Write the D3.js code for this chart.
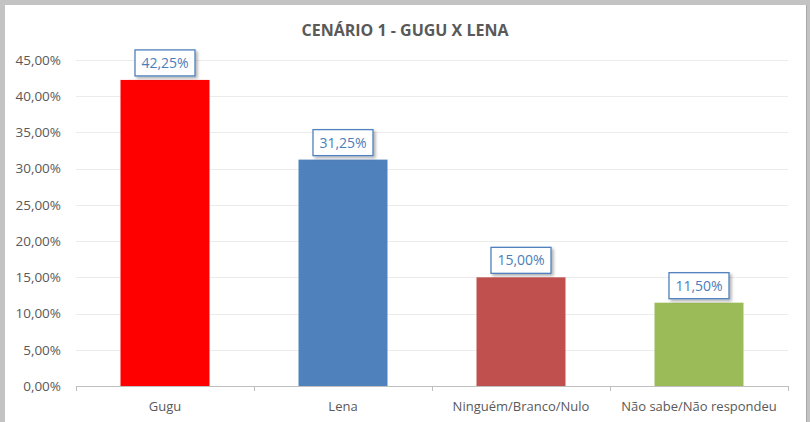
<!DOCTYPE html>
<html><head><meta charset="utf-8">
<script src="https://cdn.jsdelivr.net/npm/d3@7"></script>
<style>
html,body{margin:0;padding:0;background:#c3c3c3;}
svg{display:block;}
</style></head>
<body>
<script>
const title = "CENÁRIO 1 - GUGU X LENA";
const categories = ["Gugu", "Lena", "Ninguém/Branco/Nulo", "Não sabe/Não respondeu"];
const values = [42.25, 31.25, 15.00, 11.50];
const colors = ["#ff0000", "#4f81bd", "#c0504d", "#9bbb59"];
const yTicks = [0, 5, 10, 15, 20, 25, 30, 35, 40, 45];

const W = 810, H = 422;
const fmt = v => v.toFixed(2).replace(".", ",") + "%";
const font = "'Open Sans', 'Liberation Sans', sans-serif";

const svg = d3.select("body").append("svg").attr("width", W).attr("height", H);
// background frame
svg.append("rect").attr("x", 0).attr("y", 0).attr("width", W).attr("height", H).attr("fill", "#c3c3c3");
svg.append("rect").attr("x", 5).attr("y", 5).attr("width", 801).attr("height", H - 5).attr("fill", "#ffffff");
svg.append("line").attr("x1", 806.5).attr("x2", 806.5).attr("y1", 5).attr("y2", H).attr("stroke", "#a8a8a8");

const defs = svg.append("defs");
const f = defs.append("filter").attr("id", "sh").attr("x", "-20%").attr("y", "-20%").attr("width", "150%").attr("height", "160%");
f.append("feDropShadow").attr("dx", 2).attr("dy", 2).attr("stdDeviation", 1.5).attr("flood-color", "#000").attr("flood-opacity", 0.3);

const x = d3.scaleBand().domain(categories).range([76, 788]).paddingInner(0.5).paddingOuter(0.25);
const y = d3.scaleLinear().domain([0, 45]).range([386, 60]);

// gridlines
svg.append("g").selectAll("line").data(yTicks.filter(t => t > 0)).join("line")
  .attr("x1", 76).attr("x2", 788)
  .attr("y1", d => Math.round(y(d)) + 0.5).attr("y2", d => Math.round(y(d)) + 0.5)
  .attr("stroke", "#ececec").attr("stroke-width", 1);

// y axis labels
svg.append("g").selectAll("text").data(yTicks).join("text")
  .attr("x", 61).attr("y", d => y(d)).attr("dy", "0.35em")
  .attr("text-anchor", "end").attr("font-family", font).attr("font-size", 13.5)
  .attr("fill", "#595959").text(d => fmt(d));

// bars
svg.append("g").selectAll("rect").data(values).join("rect")
  .attr("x", (d, i) => x(categories[i])).attr("width", x.bandwidth())
  .attr("y", d => y(d)).attr("height", d => y(0) - y(d))
  .attr("fill", (d, i) => colors[i]);

// x axis
svg.append("line").attr("x1", 76).attr("x2", 788).attr("y1", 386.5).attr("y2", 386.5).attr("stroke", "#bfbfbf");
const step = x.step();
const bounds = d3.range(categories.length + 1).map(i => 76 + i * step);
svg.append("g").selectAll("line").data(bounds).join("line")
  .attr("x1", d => Math.round(d) + 0.5).attr("x2", d => Math.round(d) + 0.5)
  .attr("y1", 386).attr("y2", 391).attr("stroke", "#bfbfbf");

svg.append("g").selectAll("text").data(categories).join("text")
  .attr("x", d => x(d) + x.bandwidth() / 2).attr("y", 411)
  .attr("text-anchor", "middle").attr("font-family", font).attr("font-size", 13)
  .attr("fill", "#595959").text(d => d);

// data labels
const lg = svg.append("g").selectAll("g").data(values).join("g")
  .attr("transform", (d, i) => `translate(${x(categories[i]) + x.bandwidth() / 2},${y(d) - 4})`);
lg.append("rect").attr("x", -30).attr("y", -26).attr("width", 60).attr("height", 26)
  .attr("fill", "#ffffff").attr("stroke", "#4f81bd").attr("stroke-width", 1.3).attr("filter", "url(#sh)");
lg.append("text").attr("x", 0).attr("y", -13).attr("dy", "0.35em").attr("text-anchor", "middle")
  .attr("font-family", font).attr("font-size", 14).attr("fill", "#4a7ebb").text(d => fmt(d));

// title
svg.append("text").attr("x", 405).attr("y", 36).attr("text-anchor", "middle")
  .attr("font-family", font).attr("font-weight", "bold").attr("font-size", 16)
  .attr("fill", "#595959").text(title);
</script>
</body></html>
